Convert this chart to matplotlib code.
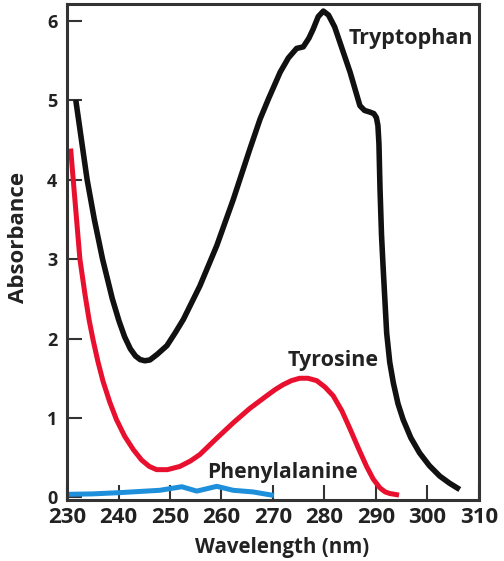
import matplotlib
matplotlib.use("Agg")
import matplotlib.pyplot as plt

# Data
trp_x = [231.7, 232.8, 233.9, 235.3, 236.9, 238.8, 240.1, 241.2, 242.3, 243.3, 244.2, 245.1, 246.1,
         247.5, 249.4, 251.0, 252.6, 254.2, 255.8, 259.1, 262.3, 265.5, 267.5, 269.1, 271.4,
         273.0, 274.6, 275.9, 277.0, 277.8, 278.8, 279.8, 280.8, 282.0, 283.0, 285.0, 286.9,
         287.8, 288.8, 289.6, 290.1, 290.4, 290.6, 290.8, 291.1, 291.4, 292.1, 292.7, 293.4, 294.3,
         295.3, 296.8, 298.5, 300.4, 302.4, 304.3, 306.3]
trp_y = [5.00, 4.50, 4.00, 3.50, 3.00, 2.50, 2.22, 2.02, 1.87, 1.78, 1.735, 1.72, 1.73,
         1.80, 1.91, 2.07, 2.24, 2.45, 2.66, 3.17, 3.75, 4.38, 4.76, 5.01, 5.35,
         5.53, 5.65, 5.67, 5.78, 5.89, 6.05, 6.12, 6.07, 5.92, 5.73, 5.35, 4.93,
         4.87, 4.85, 4.83, 4.78, 4.68, 4.45, 3.90, 3.30, 2.91, 2.07, 1.70, 1.44, 1.18,
         0.98, 0.75, 0.56, 0.40, 0.27, 0.18, 0.10]

tyr_x = [230.7, 231.2, 231.85, 232.5, 233.5, 234.3, 235.1, 236.0, 237.0, 238.3, 239.6, 241.2,
         242.9, 244.5, 246.0, 247.4, 249.5, 251.9, 254.0, 255.8, 259.0, 262.3, 265.5, 268.8,
         270.5, 272.0, 273.6, 275.2, 276.8, 278.5, 280.1, 281.7, 283.4, 285.0, 286.6, 288.2,
         289.5, 290.8, 291.8, 292.7, 294.5]
tyr_y = [4.39, 4.00, 3.50, 3.00, 2.55, 2.23, 1.97, 1.71, 1.46, 1.20, 0.98, 0.77,
         0.60, 0.47, 0.39, 0.35, 0.35, 0.39, 0.46, 0.54, 0.74, 0.94, 1.12, 1.28,
         1.36, 1.42, 1.47, 1.50, 1.50, 1.47, 1.39, 1.28, 1.09, 0.86, 0.62, 0.39,
         0.23, 0.12, 0.07, 0.05, 0.03]

phe_x = [230.3, 235, 240, 244, 248, 252.3, 255.2, 259.1, 262.3, 266.1, 270.2]
phe_y = [0.04, 0.045, 0.06, 0.075, 0.09, 0.135, 0.08, 0.14, 0.09, 0.07, 0.025]

x_ticks = [230, 240, 250, 260, 270, 280, 290, 300, 310]
y_ticks = [0, 1, 2, 3, 4, 5, 6]

plt.rcParams['font.family'] = ['Open Sans', 'DejaVu Sans']
plt.rcParams['font.weight'] = 'bold'

fig = plt.figure(figsize=(5.04, 5.61), dpi=100)
ax = fig.add_axes([0.133, 0.109, 0.817, 0.884])

ax.plot(trp_x, trp_y, color='#111111', lw=4.0, solid_capstyle='butt', solid_joinstyle='round')
ax.plot(tyr_x, tyr_y, color='#E8102E', lw=3.6, solid_capstyle='butt', solid_joinstyle='round')
ax.plot(phe_x, phe_y, color='#1E8FDA', lw=3.6, solid_capstyle='butt', solid_joinstyle='round')

ax.set_xlim(230, 310)
ax.set_ylim(-0.03, 6.21)
ax.set_xticks(x_ticks)
ax.set_yticks(y_ticks)
ax.tick_params(axis='both', direction='in', length=11, width=1.5, color='#333333')
ax.tick_params(axis='x', labelsize=16, pad=5)
ax.tick_params(axis='y', labelsize=13, pad=7)
for lab in ax.get_xticklabels() + ax.get_yticklabels():
    lab.set_fontweight('bold')
    lab.set_color('#222222')
for sp in ax.spines.values():
    sp.set_linewidth(2.2)
    sp.set_color('#333333')

ax.set_xlabel('Wavelength (nm)', fontsize=14.8, fontweight='bold', color='#222222')
ax.xaxis.set_label_coords(0.522, -0.075)
ax.set_ylabel('Absorbance', fontsize=16, fontweight='bold', color='#222222')
ax.yaxis.set_label_coords(-0.093, 0.53)

ax.text(284.8, 5.77, 'Tryptophan', fontsize=15.5, fontweight='bold', color='#222222', va='center', ha='left')
ax.text(272.9, 1.72, 'Tyrosine', fontsize=15.5, fontweight='bold', color='#222222', va='center', ha='left')
ax.text(257.2, 0.31, 'Phenylalanine', fontsize=15.2, fontweight='bold', color='#222222', va='center', ha='left')

fig.savefig('out.png', dpi=100)
